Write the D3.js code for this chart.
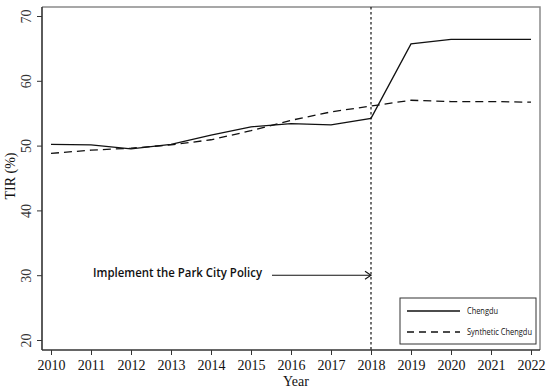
<!DOCTYPE html>
<html>
<head>
<meta charset="utf-8">
<script src="https://cdn.jsdelivr.net/npm/d3@7"></script>
<style>
  body { margin: 0; background: #fff; }
  svg { display: block; }
</style>
</head>
<body>
<div id="chart"></div>
<script>
// data
const years = [2010, 2011, 2012, 2013, 2014, 2015, 2016, 2017, 2018, 2019, 2020, 2021, 2022];
const chengdu = [50.2, 50.1, 49.5, 50.2, 51.6, 52.9, 53.4, 53.2, 54.2, 65.7, 66.4, 66.4, 66.4];
const synthetic = [48.8, 49.3, 49.6, 50.1, 50.9, 52.3, 53.9, 55.2, 56.1, 57.0, 56.8, 56.8, 56.7];
const yTicks = [20, 30, 40, 50, 60, 70];
const policyYear = 2018;
const annotation = "Implement the Park City Policy";
const seriesNames = ["Chengdu", "Synthetic Chengdu"];

const W = 550, H = 391;
const svg = d3.select("#chart").append("svg")
  .attr("width", W).attr("height", H);

// plot frame
const frame = { left: 42, right: 540, top: 7, bottom: 350 };

const x = d3.scaleLinear().domain([2010, 2022]).range([51, 531]);
const y = d3.scaleLinear().domain([20, 70]).range([340, 16]);

const serif = "'Liberation Serif', 'DejaVu Serif', serif";
const sans = "'Open Sans', Lato, sans-serif";

// top + right border (lighter)
svg.append("path")
  .attr("d", `M${frame.left},${frame.top}H${frame.right}V${frame.bottom}`)
  .attr("fill", "none")
  .attr("stroke", "#8a8a8a")
  .attr("stroke-width", 1.5);

// x axis
const xAxis = svg.append("g")
  .attr("transform", `translate(0,${frame.bottom})`)
  .call(d3.axisBottom(x).tickValues(years).tickFormat(d3.format("d")).tickSize(5).tickSizeOuter(0));
xAxis.select(".domain").attr("d", `M${frame.left},0H${frame.right}`).attr("stroke", "#333").attr("stroke-width", 1.6);
xAxis.selectAll(".tick line").attr("stroke", "#333");
xAxis.selectAll("text")
  .attr("y", 10)
  .attr("font-family", serif)
  .attr("font-size", 14)
  .attr("fill", "#111");

// y axis
const yAxis = svg.append("g")
  .attr("transform", `translate(${frame.left},0)`)
  .call(d3.axisLeft(y).tickValues(yTicks).tickSize(5).tickSizeOuter(0));
yAxis.select(".domain").attr("d", `M0,${frame.top}V${frame.bottom}`).attr("stroke", "#333").attr("stroke-width", 1.6);
yAxis.selectAll(".tick line").attr("stroke", "#333");
yAxis.selectAll("text")
  .attr("x", 0).attr("dy", 0)
  .attr("transform", "translate(-11,0) rotate(-90)")
  .attr("text-anchor", "middle")
  .attr("font-family", serif)
  .attr("font-size", 14)
  .attr("fill", "#333");

// axis titles
svg.append("text")
  .attr("x", (frame.left + frame.right) / 2 + 5).attr("y", 386)
  .attr("text-anchor", "middle")
  .attr("font-family", serif).attr("font-size", 14)
  .attr("fill", "#111")
  .text("Year");

svg.append("text")
  .attr("transform", "translate(15,176) rotate(-90)")
  .attr("text-anchor", "middle")
  .attr("font-family", serif).attr("font-size", 14)
  .attr("fill", "#111")
  .text("TIR (%)");

// lines
const line = d3.line()
  .x((d, i) => x(years[i]))
  .y((d) => y(d));

svg.append("path")
  .datum(synthetic)
  .attr("d", line)
  .attr("fill", "none")
  .attr("stroke", "#111")
  .attr("stroke-width", 1.3)
  .attr("stroke-dasharray", "8,5");

svg.append("path")
  .datum(chengdu)
  .attr("d", line)
  .attr("fill", "none")
  .attr("stroke", "#111")
  .attr("stroke-width", 1.3);

// policy line
svg.append("line")
  .attr("x1", x(policyYear)).attr("x2", x(policyYear))
  .attr("y1", frame.top).attr("y2", frame.bottom)
  .attr("stroke", "#111")
  .attr("stroke-width", 1.2)
  .attr("stroke-dasharray", "2.5,2.5");

// annotation + arrow
const ay = y(30);
svg.append("text")
  .attr("x", 93).attr("y", ay + 2)
  .attr("font-family", sans)
  .attr("font-size", 12.5)
  .attr("font-weight", 600)
  .attr("fill", "#111")
  .attr("textLength", 169)
  .attr("lengthAdjust", "spacingAndGlyphs")
  .text(annotation);

svg.append("line")
  .attr("x1", 272).attr("x2", x(policyYear) - 1)
  .attr("y1", ay).attr("y2", ay)
  .attr("stroke", "#111").attr("stroke-width", 1.1);
svg.append("path")
  .attr("d", `M${x(policyYear) - 6},${ay - 4}L${x(policyYear)},${ay}L${x(policyYear) - 6},${ay + 4}`)
  .attr("fill", "none")
  .attr("stroke", "#111").attr("stroke-width", 1.1);

// legend
const legend = svg.append("g").attr("transform", "translate(400,298)");
legend.append("rect")
  .attr("width", 136).attr("height", 46)
  .attr("fill", "#fff")
  .attr("stroke", "#333").attr("stroke-width", 1);

const legendWidths = [31, 65];
seriesNames.forEach((name, i) => {
  const ly = 13 + i * 21;
  legend.append("line")
    .attr("x1", 7).attr("x2", 60)
    .attr("y1", ly).attr("y2", ly)
    .attr("stroke", "#111").attr("stroke-width", 1.3)
    .attr("stroke-dasharray", i === 1 ? "7,5" : null);
  legend.append("text")
    .attr("x", 67).attr("y", ly + 3)
    .attr("font-family", sans)
    .attr("font-size", 8.5)
    .attr("fill", "#111")
    .attr("textLength", legendWidths[i])
    .attr("lengthAdjust", "spacingAndGlyphs")
    .text(name);
});
</script>
</body>
</html>
